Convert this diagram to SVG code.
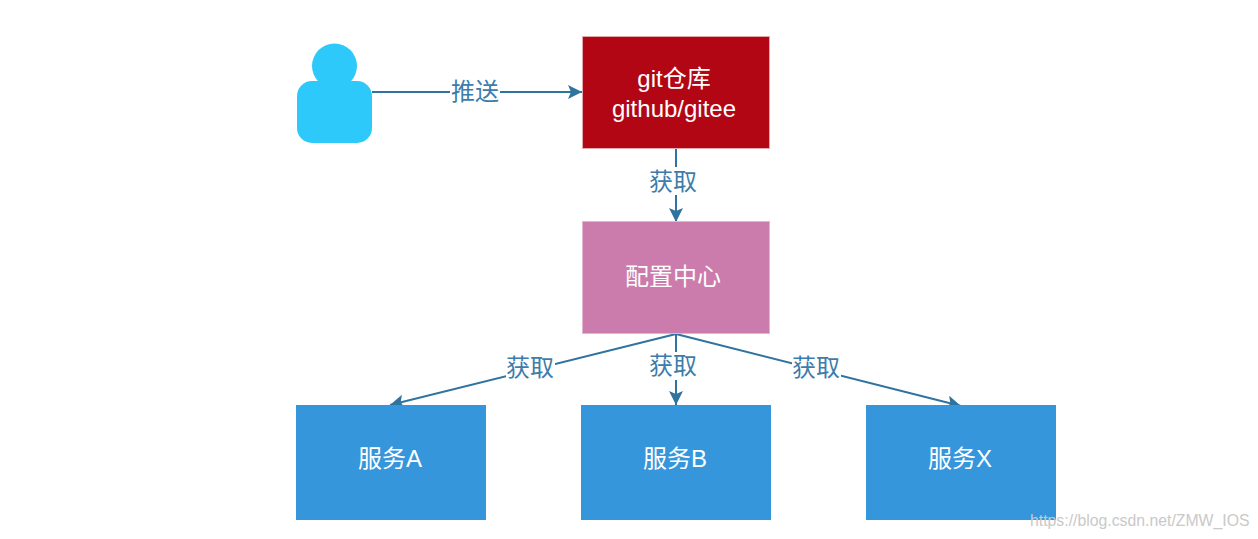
<svg xmlns="http://www.w3.org/2000/svg" width="1258" height="539" viewBox="0 0 1258 539">
<style>
.box{stroke-width:1}
.t{font-family:"Liberation Sans","Noto Sans CJK SC",sans-serif;font-size:24px;fill:#fff;text-anchor:middle}
.l{font-family:"Liberation Sans","Noto Sans CJK SC",sans-serif;font-size:24px;fill:#3d7cab;text-anchor:middle}
.c{fill:none;stroke:#2f739f;stroke-width:2}
.bg{fill:#fff}
.wm{font-family:"Liberation Sans",sans-serif;font-size:15.800px;fill:#c9c9c9}
</style>
<defs>
<marker id="a" markerUnits="userSpaceOnUse" markerWidth="16" markerHeight="16" refX="14" refY="8" orient="auto"><path d="M0 1 L14 8 L0 15 L3 8 Z" fill="#2f739f"/></marker>
</defs>
<rect width="1258" height="539" fill="#fff"/>
<g id="connectors">
<path class="c" d="M372 92H582" marker-end="url(#a)"/>
<path class="c" d="M676 149V222" marker-end="url(#a)"/>
<path class="c" d="M676 334L390 405" marker-end="url(#a)"/>
<path class="c" d="M676 334V405" marker-end="url(#a)"/>
<path class="c" d="M676 334L961 406" marker-end="url(#a)"/>
<rect class="bg" x="450" y="78" width="50" height="28"/>
<text class="l" x="475" y="100">推送</text>
<rect class="bg" x="649" y="167" width="49" height="28"/>
<text class="l" x="673" y="190">获取</text>
<rect class="bg" x="506" y="354" width="49" height="28"/>
<text class="l" x="530" y="376">获取</text>
<rect class="bg" x="649" y="352" width="49" height="28"/>
<text class="l" x="673" y="374">获取</text>
<rect class="bg" x="792" y="354" width="49" height="28"/>
<text class="l" x="816" y="376">获取</text>
</g>
<g id="user">
<circle cx="334.500" cy="66" r="22.500" fill="#2dc9fb"/>
<rect x="297" y="81" width="75" height="62" rx="15" fill="#2dc9fb"/>
</g>
<g id="git">
<rect class="box" x="582.500" y="36.500" width="187" height="112" fill="#b30614" stroke="#e4a9ad"/>
<text class="t" x="674" y="87">git仓库</text>
<text class="t" x="674" y="117">github/gitee</text>
</g>
<g id="config">
<rect class="box" x="582.500" y="221.500" width="187" height="112" fill="#cb7bac" stroke="#e2b6d1"/>
<text class="t" x="673" y="285">配置中心</text>
</g>
<g id="svcA">
<rect x="296" y="405" width="190" height="115" fill="#3596db"/>
<text class="t" x="390" y="467">服务A</text>
</g>
<g id="svcB">
<rect x="581" y="405" width="190" height="115" fill="#3596db"/>
<text class="t" x="675" y="467">服务B</text>
</g>
<g id="svcX">
<rect x="866" y="405" width="190" height="115" fill="#3596db"/>
<text class="t" x="960" y="467">服务X</text>
</g>
<text class="wm" x="1030" y="526">https://blog.csdn.net/ZMW_IOS</text>
</svg>
